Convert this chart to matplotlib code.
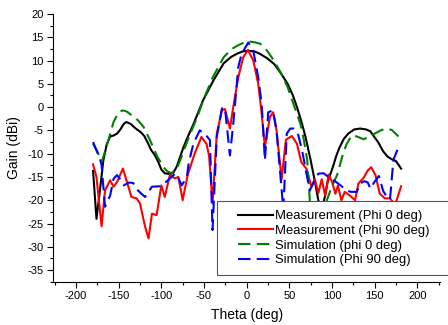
import matplotlib
matplotlib.use("Agg")
import matplotlib.pyplot as plt
from matplotlib.patches import Rectangle

plt.rcParams['font.family'] = ['Liberation Sans', 'DejaVu Sans']
plt.rcParams['axes.unicode_minus'] = False

# Measurement (Phi 0 deg)
theta_m0 = [-180, -176, -172, -168, -164, -160, -156, -152, -148, -144, -141, -136, -130, -124,
            -120, -116, -112, -108, -104, -100, -96, -90, -86, -82, -78, -74, -70, -62, -51, -39,
            -27, -18, -11, -4, 3, 10, 16, 24, 32, 40, 48, 54, 59, 64, 69, 75, 80, 84, 88, 92, 95,
            101, 105, 109, 114, 119, 126, 133, 140, 145, 150, 154, 160, 165, 170, 175, 181]
gain_m0 = [-13.7, -24.0, -18.0, -11.5, -8.0, -6.3, -6.1, -5.7, -4.8, -3.6, -3.2, -3.6, -4.6, -5.4,
           -6.2, -7.6, -9.2, -10.2, -11.6, -13.4, -14.2, -14.4, -14.1, -12.8, -10.7, -8.6, -6.8,
           -3.5, 1.5, 5.7, 9.4, 10.8, 11.5, 12.0, 12.1, 11.9, 11.4, 10.5, 9.3, 7.3, 5.0, 2.6, 0.0,
           -3.0, -6.4, -11.4, -16.0, -20.0, -22.0, -19.0, -16.0, -12.9, -10.5, -8.6, -6.8, -5.7,
           -4.8, -4.6, -4.8, -5.2, -6.5, -7.5, -9.5, -10.6, -11.2, -11.6, -13.2]

# Measurement (Phi 90 deg)
theta_m90 = [-180, -176, -170, -166, -160, -156, -152, -145, -135, -129, -125, -119, -115, -111,
             -105.5, -100, -96, -90, -84, -80, -75, -69, -61, -53, -47, -44, -40, -35, -29, -25.5,
             -19.6, -15.7, -9.8, -4, 1.5, 7.8, 13.6, 17.6, 21.4, 27.3, 31, 35, 41, 46, 53, 59, 64,
             70, 76, 80, 84, 88, 92, 96, 100, 104, 107, 111, 115, 121, 127, 131, 137, 142, 146,
             151, 156, 162, 168, 174, 181]
gain_m90 = [-12.3, -15.0, -25.6, -17.9, -15.7, -17.1, -16.1, -13.2, -19.3, -19.6, -20.7, -25.7,
            -28.2, -22.9, -23.2, -16.8, -19.3, -14.6, -15.3, -15.0, -20.0, -14.5, -10.0, -6.4,
            -7.9, -10.5, -20.7, -5.7, -0.7, -0.4, -4.6, 0.0, 6.4, 10.7, 12.3, 10.0, 5.0, -1.4,
            -8.6, -2.1, -1.1, -5.0, -15.5, -7.0, -6.2, -7.9, -11.8, -13.2, -17.1, -15.5, -18.5,
            -15.5, -19.0, -14.5, -16.0, -18.6, -16.8, -20.0, -18.2, -19.0, -20.0, -16.4, -15.2,
            -13.6, -12.9, -14.6, -18.6, -19.6, -19.6, -21.0, -17.0]

# Simulation (phi 0 deg)
theta_s0 = [-180, -175, -170, -166, -162, -156, -150, -145, -140, -133, -127, -121, -117, -113,
            -109, -105, -101, -97, -93, -88, -82, -78, -72, -66, -58, -51, -40, -27, -18, -11, -4,
            3, 10, 16, 24, 32, 40, 48, 55, 63, 67, 71, 74, 78, 84, 90, 94, 100, 106, 113, 117,
            123, 129, 137, 143, 150, 157, 163, 170, 174, 178]
gain_s0 = [-7.9, -9.5, -11.8, -9.6, -7.1, -3.2, -1.1, -0.7, -1.0, -2.0, -2.9, -4.2, -5.7, -7.2,
           -8.9, -10.5, -11.8, -13.0, -13.8, -14.2, -13.2, -11.5, -8.5, -5.7, -2.2, 1.4, 6.3,
           10.7, 12.4, 13.2, 13.8, 14.1, 13.9, 13.6, 12.1, 10.0, 7.4, 4.3, 0.6, -3.6, -7.0,
           -11.4, -20.0, -26.0, -29.0, -25.0, -20.0, -17.0, -14.6, -10.0, -8.0, -6.1, -6.3, -6.9,
           -6.4, -5.7, -5.0, -4.6, -4.9, -5.6, -6.3]

# Simulation (Phi 90 deg)
theta_s90 = [-180, -176, -172, -170, -166, -160, -156, -152, -148, -144, -138, -133, -129, -124,
             -119, -111, -102, -94, -88, -84, -80, -76, -70, -68, -62.5, -55, -49, -43, -40, -35,
             -29, -25.5, -19.6, -15.7, -9.8, -6, 2, 7.8, 13.6, 17.6, 21.4, 25.3, 31, 35, 43, 47,
             51, 55, 60.5, 65, 70, 74, 80, 84, 90, 96, 102, 110, 117, 122, 129, 133, 138, 142,
             145, 150, 155, 160, 165, 168, 172, 178]
gain_s90 = [-7.5, -9.3, -11.0, -12.5, -21.4, -19.0, -15.4, -14.6, -15.5, -16.8, -16.2, -16.3,
            -17.6, -18.5, -19.3, -17.1, -17.0, -16.0, -15.0, -14.3, -15.3, -16.8, -15.0, -12.1,
            -7.9, -5.0, -5.7, -7.1, -26.4, -6.4, -0.3, -0.1, -10.4, -3.6, 8.6, 11.4, 13.9, 12.1,
            6.4, 0.7, -11.4, -1.1, -0.7, -5.0, -22.0, -5.7, -4.6, -4.6, -6.0, -9.3, -14.2, -17.9,
            -15.5, -14.3, -14.2, -15.0, -15.7, -16.8, -17.9, -18.2, -18.2, -16.4, -15.9, -16.2,
            -17.5, -16.0, -14.8, -18.0, -19.5, -19.8, -11.3, -8.6]

labels = ["Measurement (Phi 0 deg)", "Measurement (Phi 90 deg)",
          "Simulation (phi 0 deg)", "Simulation (Phi 90 deg)"]

fig = plt.figure(figsize=(4.48, 3.25), dpi=100)
ax = fig.add_axes([53.3 / 448, 1 - 281.7 / 325, (440 - 53.3) / 448, (281.7 - 14) / 325])

lw = 1.5
ax.plot(theta_m0, gain_m0, color='black', lw=lw, label=labels[0])
ax.plot(theta_m90, gain_m90, color='#ff0000', lw=lw, label=labels[1])
ax.plot(theta_s0, gain_s0, color='#008000', lw=lw, dashes=(6, 3), label=labels[2])
ax.plot(theta_s90, gain_s90, color='#0000ff', lw=lw, dashes=(6, 3), label=labels[3])

ax.set_xlim(-226.6, 226.6)
ax.set_ylim(-37.5, 20)
ax.set_xticks(range(-200, 201, 50))
ax.set_xticks(range(-225, 226, 25), minor=True)
ax.set_yticks(range(-35, 21, 5))
ax.set_yticks([v / 2 for v in range(-75, 41, 5)], minor=True)
ax.tick_params(which='major', direction='out', length=4, width=0.8, labelsize=8, pad=3)
ax.tick_params(which='minor', direction='out', length=2, width=0.8)
for s in ['top', 'right']:
    ax.spines[s].set_visible(False)
for s in ['left', 'bottom']:
    ax.spines[s].set_linewidth(0.8)

ax.set_xlabel("Theta (deg)", fontsize=10, labelpad=5)
ax.set_ylabel("Gain (dBi)", fontsize=10, labelpad=5)

rect = Rectangle((217 / 448, 1 - 275 / 325), 0.6, 74 / 325, transform=fig.transFigure,
                 facecolor='white', edgecolor='#555555', lw=0.8, zorder=4, clip_on=False)
ax.add_patch(rect)

leg = ax.legend(loc='upper left', bbox_to_anchor=(238 / 448, 1 - 210 / 325),
                bbox_transform=fig.transFigure, frameon=False, borderpad=0, borderaxespad=0,
                handlelength=2.7, handletextpad=0.15, labelspacing=0.2, fontsize=9.4)
leg.set_zorder(5)

fig.savefig("out.png", dpi=100)
